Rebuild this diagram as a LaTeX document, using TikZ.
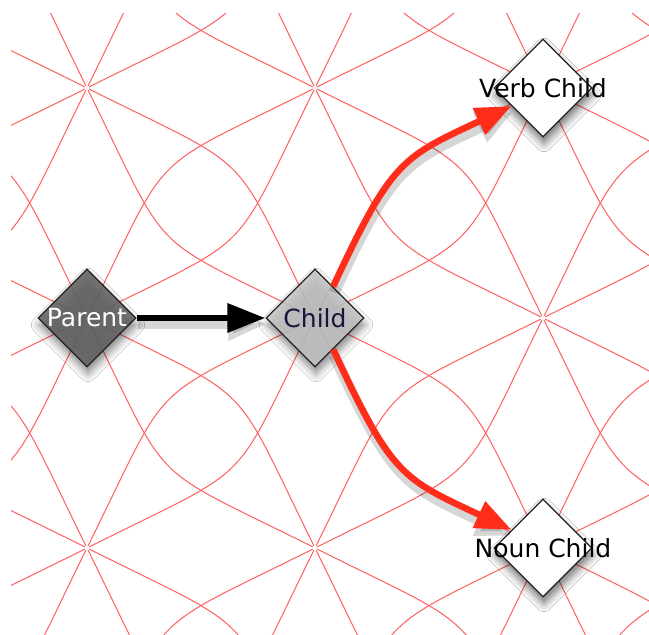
\documentclass[tikz,border=0pt]{standalone}
\usepackage{fontspec}
\setmainfont{DejaVu Sans}
\usetikzlibrary{shapes.geometric,arrows.meta,shadows.blur}
\definecolor{patred}{RGB}{255,95,95}
\definecolor{arrred}{RGB}{255,45,25}
\definecolor{pardark}{RGB}{100,100,100}
\definecolor{childgray}{RGB}{196,196,196}
\definecolor{childtext}{RGB}{22,22,60}
\definecolor{edgegray}{RGB}{35,35,35}
\begin{document}
\begin{tikzpicture}[x=1pt,y=1pt,
  dia/.style={diamond, minimum width=98pt, minimum height=98pt, inner sep=0pt,
     draw=edgegray, line width=1.3pt,
     blur shadow={shadow xshift=1pt, shadow yshift=-7pt, shadow blur radius=8pt, shadow opacity=55}},
  lbl/.style={font=\fontsize{25}{28}\selectfont, inner sep=0pt},
  pat/.style={patred, line width=1pt, shorten <=2.5pt, shorten >=2.5pt},
  redarrow/.style={arrred, line width=6.5pt, -{Triangle[length=36pt,width=28pt]}},
  blackarrow/.style={black, line width=6.5pt, -{Triangle[length=38pt,width=28pt]}},
  ashadow/.style={black, opacity=0.16, line width=11pt, transform canvas={xshift=1pt,yshift=-6pt}}
]
\useasboundingbox (0,0) rectangle (649,635);
\fill[white] (0,0) rectangle (649,635);

% background pattern
\begin{scope}
\clip (11,0) rectangle (649,621);
\foreach \i in {-1,0,1,2,3}{
  \foreach \j in {-1,0,1,2,3}{
    \pgfmathsetmacro\vx{87+228*\i}
    \pgfmathsetmacro\vy{87+230*\j}
    \draw[pat] (\vx,\vy) .. controls +(172,86) and +(-86,-174) .. (\vx+228,\vy+230);
    \draw[pat] (\vx,\vy) .. controls +(86,174) and +(-172,-86) .. (\vx+228,\vy+230);
    \draw[pat] (\vx,\vy) .. controls +(172,-86) and +(-86,174) .. (\vx+228,\vy-230);
    \draw[pat] (\vx,\vy) .. controls +(86,-174) and +(-172,86) .. (\vx+228,\vy-230);
  }
}
\end{scope}

% nodes
\node[dia, fill=pardark, fill opacity=0.88] (parent) at (87,317) {};
\node[dia, fill=childgray, fill opacity=0.85] (child) at (315,317) {};
\node[dia, fill=white] (verb) at (543,547) {};
\node[dia, fill=white] (noun) at (543,87) {};

% connector shadows
\draw[ashadow, -{Triangle[length=38pt,width=31pt]}] (parent.east) -- (child.west);
\draw[ashadow, -{Triangle[length=36pt,width=31pt]}] (child.60) .. controls +(59,127) and +(-109,-51) .. (verb.210);
\draw[ashadow, -{Triangle[length=36pt,width=31pt]}] (child.-60) .. controls +(59,-127) and +(-109,51) .. (noun.150);

% connectors
\draw[blackarrow] (parent.east) -- (child.west);
\draw[redarrow] (child.60) .. controls +(59,127) and +(-109,-51) .. (verb.210);
\draw[redarrow] (child.-60) .. controls +(59,-127) and +(-109,51) .. (noun.150);

% labels
\node[lbl, text=white] (parenttext) at (parent) {Parent};
\node[lbl, text=childtext] (childtext) at (child) {Child};
\node[lbl, text=black] (verbtext) at (verb) {Verb Child};
\node[lbl, text=black] (nountext) at (noun) {Noun Child};
\end{tikzpicture}
\end{document}
